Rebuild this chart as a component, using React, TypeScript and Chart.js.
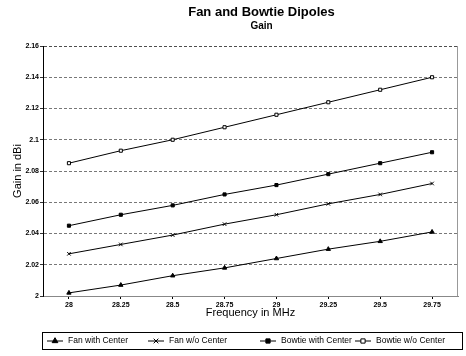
import { useEffect, useRef } from 'react';
import { Chart, registerables } from 'chart.js';
import { drawPoint } from 'chart.js/helpers';

Chart.register(...registerables);

const FREQUENCIES = ['28', '28.25', '28.5', '28.75', '29', '29.25', '29.5', '29.75'];
const FAN_WITH_CENTER = [2.002, 2.007, 2.013, 2.018, 2.024, 2.030, 2.035, 2.041];
const FAN_WO_CENTER = [2.027, 2.033, 2.039, 2.046, 2.052, 2.059, 2.065, 2.072];
const BOWTIE_WITH_CENTER = [2.045, 2.052, 2.058, 2.065, 2.071, 2.078, 2.085, 2.092];
const BOWTIE_WO_CENTER = [2.085, 2.093, 2.100, 2.108, 2.116, 2.124, 2.132, 2.140];
const SERIES_LABELS = ['Fan with Center', 'Fan w/o Center', 'Bowtie with Center', 'Bowtie w/o Center'];
const Y_MIN = 2;
const Y_MAX = 2.16;
const Y_STEP = 0.02;

const FONT = "'Liberation Sans', Arial, Helvetica, sans-serif";

const titlePlugin = {
  id: 'customTitles',
  afterDraw(chart: any) {
    const { ctx, chartArea } = chart;
    const cx = (chartArea.left + chartArea.right) / 2 + 11;
    ctx.save();
    ctx.fillStyle = '#000';
    ctx.textAlign = 'center';
    ctx.textBaseline = 'middle';
    ctx.font = `bold 13px ${FONT}`;
    ctx.fillText('Fan and Bowtie Dipoles', cx, 12);
    ctx.font = `bold 10px ${FONT}`;
    ctx.fillText('Gain', cx, 26);
    ctx.restore();
  },
};

const LEGEND_MARKER_X = [55, 156, 268, 363];

const legendPlugin = {
  id: 'boxedLegend',
  afterDraw(chart: any) {
    const { ctx } = chart;
    const top = 332;
    const bottom = 349;
    const left = 42;
    const right = 462;
    ctx.save();
    ctx.strokeStyle = '#000';
    ctx.lineWidth = 1;
    ctx.strokeRect(left + 0.5, top + 0.5, right - left, bottom - top);
    const y = (top + bottom) / 2 + 0.5;
    ctx.font = `8.5px ${FONT}`;
    ctx.textBaseline = 'middle';
    ctx.textAlign = 'left';
    chart.data.datasets.forEach((ds: any, i: number) => {
      const x = LEGEND_MARKER_X[i];
      ctx.strokeStyle = '#000';
      ctx.lineWidth = 1;
      ctx.beginPath();
      ctx.moveTo(x - 8, y);
      ctx.lineTo(x + 8, y);
      ctx.stroke();
      ctx.fillStyle = ds.pointBackgroundColor;
      drawPoint(ctx, { pointStyle: ds.pointStyle, radius: ds.pointRadius + 0.8, rotation: 0, borderWidth: 1 }, x, y);
      ctx.fillStyle = '#000';
      ctx.fillText(ds.label, x + 13, y);
    });
    ctx.restore();
  },
};

const framePlugin = {
  id: 'frame',
  beforeDatasetsDraw(chart: any) {
    const { ctx, chartArea } = chart;
    ctx.save();
    ctx.strokeStyle = '#999';
    ctx.lineWidth = 1;
    ctx.beginPath();
    ctx.moveTo(chartArea.right - 0.5, chartArea.top);
    ctx.lineTo(chartArea.right - 0.5, chartArea.bottom);
    ctx.stroke();
    ctx.restore();
  },
};

export default function App() {
  const canvasRef = useRef<HTMLCanvasElement | null>(null);

  useEffect(() => {
    const canvas = canvasRef.current;
    if (!canvas) return;
    const mk = (label: string, data: number[], pointStyle: string, fill: string, radius: number) => ({
      label,
      data,
      borderColor: '#000',
      borderWidth: 1,
      pointStyle,
      pointRadius: radius,
      pointBackgroundColor: fill,
      pointBorderColor: '#000',
      pointBorderWidth: 1,
      tension: 0,
      fill: false,
    });
    const chart = new Chart(canvas, {
      type: 'line',
      data: {
        labels: FREQUENCIES,
        datasets: [
          mk(SERIES_LABELS[0], FAN_WITH_CENTER, 'triangle', '#000', 2.5),
          mk(SERIES_LABELS[1], FAN_WO_CENTER, 'crossRot', '#000', 2.5),
          mk(SERIES_LABELS[2], BOWTIE_WITH_CENTER, 'rect', '#000', 2.2),
          mk(SERIES_LABELS[3], BOWTIE_WO_CENTER, 'rect', '#fff', 2.2),
        ],
      },
      options: {
        responsive: false,
        animation: false,
        devicePixelRatio: 1,
        layout: { padding: { top: 46, right: 8, bottom: 30, left: 0 } },
        plugins: {
          legend: { display: false },
          title: { display: false },
          tooltip: { enabled: false },
        },
        scales: {
          x: {
            type: 'category',
            offset: true,
            afterFit: (scale: any) => {
              scale.height = 30;
            },
            grid: {
              display: true,
              drawOnChartArea: false,
              drawTicks: true,
              tickLength: 3,
              tickColor: '#000',
            },
            border: { display: true, color: '#888', width: 1 },
            ticks: {
              color: '#000',
              font: { family: FONT, size: 7, weight: 'bold' },
              padding: 2,
              maxRotation: 0,
              autoSkip: false,
            },
            title: {
              display: true,
              text: 'Frequency in MHz',
              color: '#000',
              font: { family: FONT, size: 11 },
              padding: { top: 0, bottom: 6 },
            },
          },
          y: {
            min: Y_MIN,
            max: Y_MAX,
            afterFit: (scale: any) => {
              scale.width = 43;
            },
            grid: {
              color: (c: any) => (c.tick && c.tick.value >= Y_MAX ? '#222' : '#555'),
              lineWidth: 0.8,
              tickLength: 3,
              tickColor: '#000',
              tickBorderDash: [],
            },
            border: { display: true, color: '#000', width: 1, dash: [3, 2] },
            ticks: {
              stepSize: Y_STEP,
              color: '#000',
              font: { family: FONT, size: 7, weight: 'bold' },
              padding: 1,
              callback: (v: any) => String(Number(Number(v).toFixed(2))),
            },
            title: {
              display: true,
              text: 'Gain in dBi',
              color: '#000',
              font: { family: FONT, size: 11 },
              padding: { top: 11, bottom: 0 },
            },
          },
        },
      },
      plugins: [titlePlugin, legendPlugin, framePlugin],
    });
    return () => chart.destroy();
  }, []);

  return (
    <div style={{ position: 'fixed', left: 0, top: 0, width: 466, height: 356, background: '#fff' }}>
      <canvas ref={canvasRef} width={466} height={356} />
    </div>
  );
}
